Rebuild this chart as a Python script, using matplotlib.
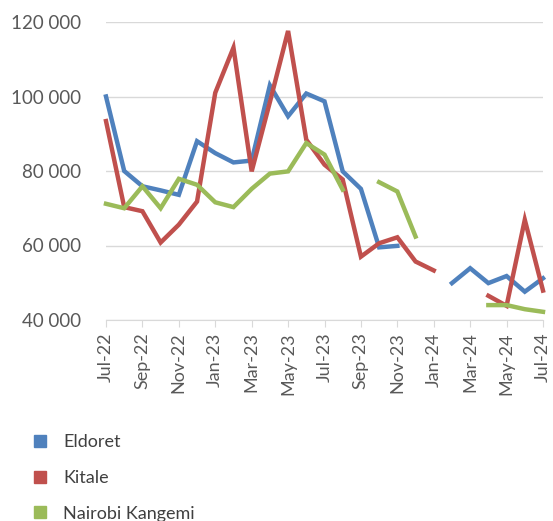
import numpy as np
import matplotlib.pyplot as plt
from matplotlib.lines import Line2D
from matplotlib.ticker import FuncFormatter

plt.rcParams['font.family'] = ['Lato', 'DejaVu Sans']

# --- data (monthly, Jul-22 .. Jul-24) ---
months = ['Jul-22', 'Aug-22', 'Sep-22', 'Oct-22', 'Nov-22', 'Dec-22',
          'Jan-23', 'Feb-23', 'Mar-23', 'Apr-23', 'May-23', 'Jun-23',
          'Jul-23', 'Aug-23', 'Sep-23', 'Oct-23', 'Nov-23', 'Dec-23',
          'Jan-24', 'Feb-24', 'Mar-24', 'Apr-24', 'May-24', 'Jun-24', 'Jul-24']
nan = np.nan
eldoret = [100000, 80000, 75900, 74800, 73600, 88000, 84800, 82300, 82800,
           103000, 94700, 100800, 98700, 79900, 75200, 59500, 59900, nan,
           nan, 49900, 53900, 49900, 51800, 47600, 51200]
kitale = [93400, 70300, 69200, 60800, 65600, 71800, 101000, 113100, 79900,
          98500, 117600, 88400, 81700, 77700, 57000, 60600, 62200, 55700,
          53300, nan, nan, 46500, 43800, 66900, 47900]
kangemi = [71200, 70000, 75900, 70000, 77900, 76300, 71600, 70300, 75200,
           79300, 79900, 87500, 84400, 75000, nan, 77000, 74500, 62400,
           nan, nan, nan, 44000, 44000, 42900, 42200]

series = [('Eldoret', eldoret, '#4F81BD'),
          ('Kitale', kitale, '#C0504D'),
          ('Nairobi Kangemi', kangemi, '#9BBB59')]

fig = plt.figure(figsize=(5.53, 5.21), dpi=100)
ax = fig.add_axes([106 / 553, 1 - 320 / 521, 437 / 553, 298 / 521])

x = np.arange(len(months))
for name, vals, col in series:
    ax.plot(x, np.array(vals, dtype=float), color=col, lw=3.2,
            solid_joinstyle='miter', clip_on=False, zorder=3)

ax.set_xlim(0, len(months) - 1)
ax.set_ylim(40000, 120000)
ax.set_yticks(np.arange(40000, 120001, 20000))
ax.yaxis.set_major_formatter(FuncFormatter(lambda v, p: f'{int(v):,}'.replace(',', ' ')))
ax.set_xticks(x[::2])
ax.set_xticklabels(months[::2], rotation=90)

ax.grid(axis='y', color='#D9D9D9', lw=1)
ax.set_axisbelow(True)
for s in ['top', 'right', 'left']:
    ax.spines[s].set_visible(False)
ax.spines['bottom'].set_color('#D9D9D9')
ax.tick_params(axis='y', length=0, pad=18, labelsize=13.5, labelcolor='#595959')
ax.tick_params(axis='x', length=5, color='#D9D9D9', pad=4, labelsize=13,
               labelcolor='#595959')

handles = [Line2D([], [], marker='s', ls='none', color=c, markersize=9)
           for _, _, c in series]
fig.legend(handles, [n for n, _, _ in series], loc='upper left',
           bbox_to_anchor=(29 / 553, 1 - 434 / 521), frameon=False,
           fontsize=13, labelspacing=1.1, handletextpad=0.7,
           handlelength=1.2, borderpad=0, borderaxespad=0,
           labelcolor='#404040')

fig.savefig('out.png', dpi=100)
